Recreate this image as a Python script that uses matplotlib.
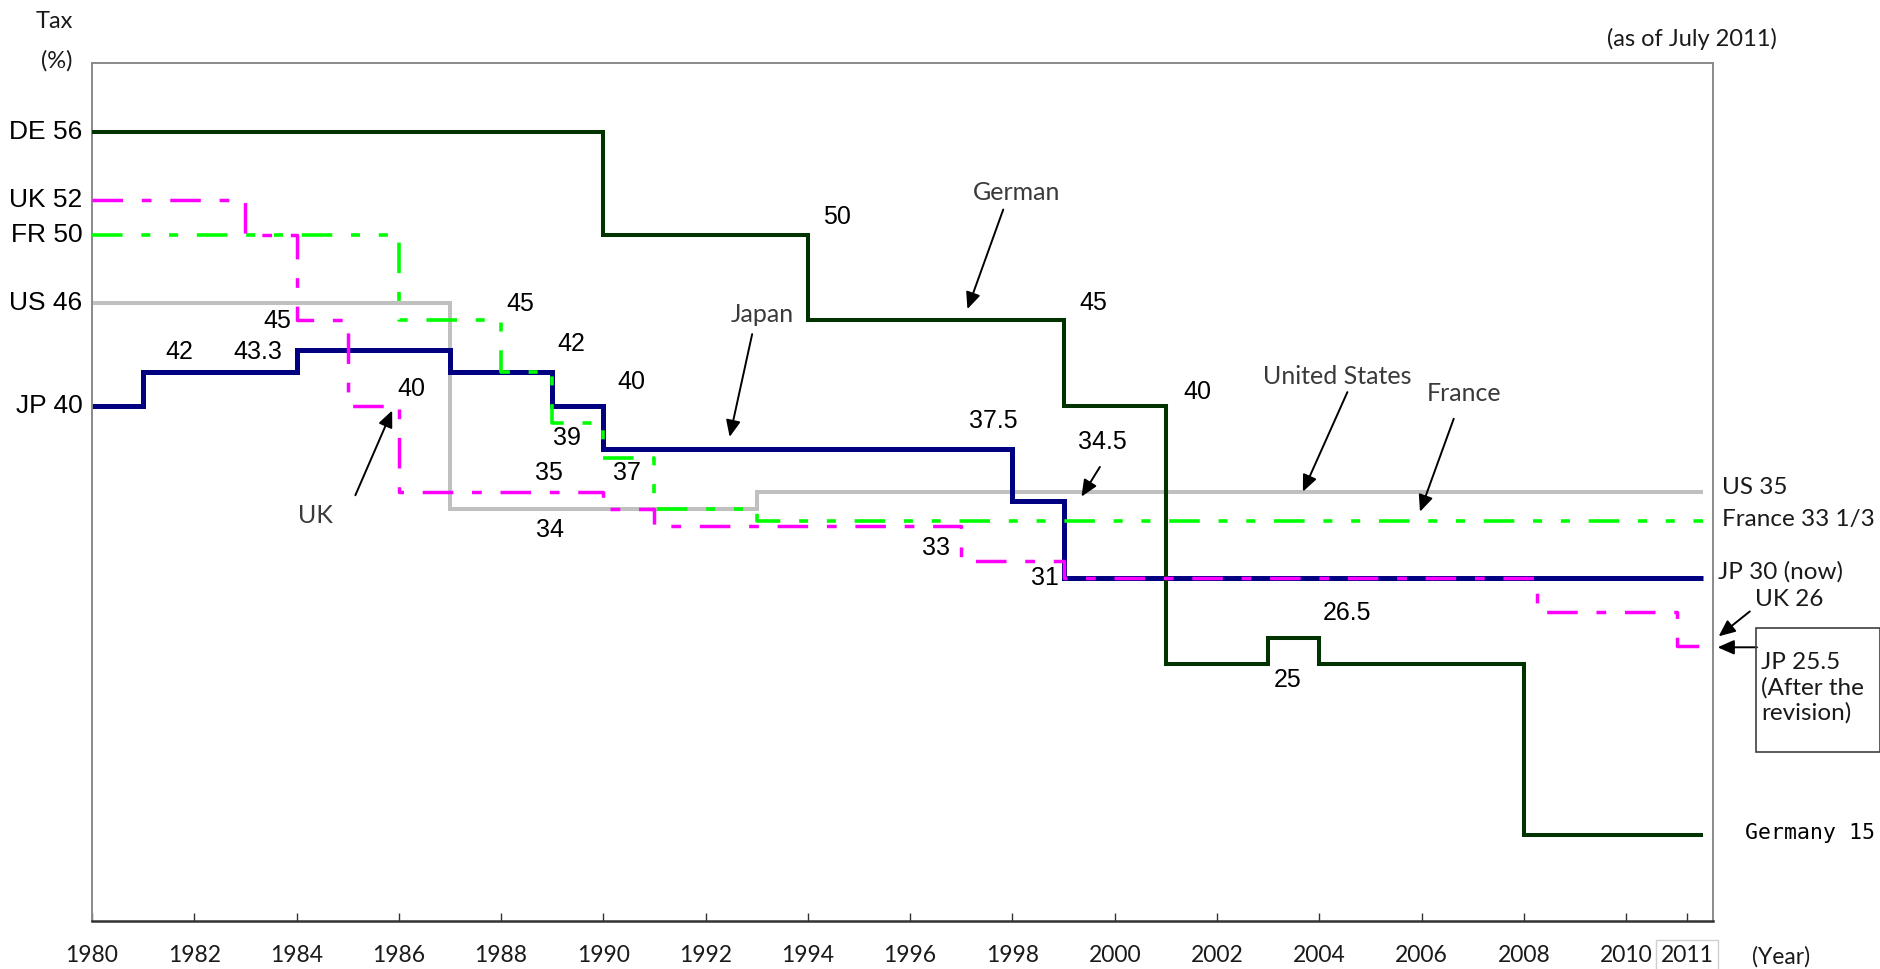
import matplotlib
matplotlib.use("Agg")
import matplotlib.pyplot as plt
from matplotlib import font_manager as fm

# ---------------------------------------------------------------------------
# Corporate tax rates (%) by country; each list of years marks the start of
# a rate period, the last entry closes the final period (July 2011).
# ---------------------------------------------------------------------------
de_years = [1980, 1990, 1994, 1999, 2001, 2003, 2004, 2008, 2011.5]
de_rates = [56, 50, 45, 40, 25, 26.5, 25, 15, 15]

jp_years = [1980, 1981, 1984, 1987, 1989, 1990, 1998, 1999, 2011.5]
jp_rates = [40, 42, 43.3, 42, 40, 37.5, 34.5, 30, 30]

us_years = [1980, 1987, 1993, 2011.5]
us_rates = [46, 34, 35, 35]

fr_years = [1980, 1986, 1988, 1989, 1990, 1991, 1993, 2011.5]
fr_rates = [50, 45, 42, 39, 37, 34, 100 / 3, 100 / 3]

uk_years = [1980, 1983, 1984, 1985, 1986, 1990, 1991, 1997, 1999, 2008.25, 2011, 2011.5]
uk_rates = [52, 50, 45, 40, 35, 34, 33, 31, 30, 28, 26, 26]

year_ticks = list(range(1980, 2011, 2))
year_tick_labels = [str(y) for y in year_ticks]
current_year_tick = 2011.2
current_year_label = "2011"

# ---------------------------------------------------------------------------
plt.rcParams["lines.scale_dashes"] = False
installed = {f.name for f in fm.fontManager.ttflist}


def pick(*names):
    for n in names:
        if n in installed:
            return n
    return "DejaVu Sans"


NUM_FONT = pick("Liberation Sans Narrow", "DejaVu Sans Condensed", "Liberation Sans")
THIN_FONT = pick("Lato", "Open Sans", "Roboto")
MONO_FONT = pick("DejaVu Sans Mono", "Liberation Mono")

W, H = 1881, 969
fig = plt.figure(figsize=(W / 100, H / 100), dpi=100)


def fx(px):
    return px / W


def fy(py):
    return 1 - py / H


AX_L, AX_R, AX_T, AX_B = 92, 1713, 63, 921
ax = fig.add_axes([fx(AX_L), fy(AX_B), (AX_R - AX_L) / W, (AX_B - AX_T) / H])
ax.set_xlim(1980, 2011.7)
ax.set_ylim(10, 60)

# --- step lines ------------------------------------------------------------
ax.step(us_years, us_rates, where="post", color="#c0c0c0", lw=2.9,
        solid_joinstyle="miter", solid_capstyle="butt", zorder=1)
ax.step(jp_years, jp_rates, where="post", color="#000080", lw=3.6,
        solid_joinstyle="miter", solid_capstyle="butt", zorder=2)
ax.step(de_years, de_rates, where="post", color="#003300", lw=2.9,
        solid_joinstyle="miter", solid_capstyle="butt", zorder=3)
fr_line, = ax.step(fr_years, fr_rates, where="post", color="#00ff00", lw=2.6, zorder=4)
fr_line.set_dashes([22, 13.5, 6.5, 13.5, 6.5, 13.5])
uk_line, = ax.step(uk_years, uk_rates, where="post", color="#ff00ff", lw=2.5, zorder=5)
uk_line.set_dashes([22, 13.5, 7, 13.5])

# --- axes styling ----------------------------------------------------------
for side in ("left", "top", "right"):
    ax.spines[side].set_color("#8a8a8a")
    ax.spines[side].set_linewidth(1.4)
ax.spines["bottom"].set_color("#333333")
ax.spines["bottom"].set_linewidth(1.8)
ax.set_yticks([])
ax.set_xticks(year_ticks + [current_year_tick])
ax.set_xticklabels(year_tick_labels + [current_year_label])
ax.tick_params(axis="x", direction="in", length=5.5, width=1, color="#333333",
               pad=17, labelsize=16.5, labelcolor="#1a1a1a")
for lab in ax.get_xticklabels():
    lab.set_fontfamily(THIN_FONT)
ax.get_xticklabels()[-1].set_bbox(dict(boxstyle="square,pad=0.2", fc="white",
                                       ec="#d0d0d0", lw=1))
fig.text(fx(1781), fy(957), "(Year)", ha="center", va="center", fontsize=16.5,
         family=THIN_FONT, color="#1a1a1a")


def fmt(v):
    return f"{v:g}"


# --- value labels next to the steps ----------------------------------------
value_labels = [
    (jp_rates, 1, 1981.70, 43.16),
    (jp_rates, 2, 1983.25, 43.16),
    (uk_rates, 2, 1983.63, 44.98),
    (fr_rates, 1, 1988.38, 45.95),
    (fr_rates, 2, 1989.37, 43.62),
    (jp_rates, 4, 1990.55, 41.42),
    (uk_rates, 3, 1986.24, 41.01),
    (fr_rates, 3, 1989.28, 38.16),
    (uk_rates, 4, 1988.94, 36.13),
    (fr_rates, 4, 1990.47, 36.13),
    (us_rates, 1, 1988.96, 32.76),
    (de_rates, 1, 1994.56, 51.00),
    (de_rates, 2, 1999.58, 46.00),
    (de_rates, 3, 2001.62, 40.84),
    (jp_rates, 5, 1997.63, 39.11),
    (jp_rates, 6, 1999.75, 37.93),
    (uk_rates, 6, 1996.51, 31.72),
    (uk_rates, 7, 1998.63, 29.98),
    (de_rates, 5, 2004.54, 27.94),
    (de_rates, 6, 2003.39, 24.07),
]
for series, i, x, y in value_labels:
    ax.text(x, y, fmt(series[i]), ha="center", va="center", fontsize=18,
            family=NUM_FONT, color="black", zorder=6)

# --- starting rates on the left --------------------------------------------
start_labels = [("DE", de_rates[0]), ("UK", uk_rates[0]), ("FR", fr_rates[0]),
                ("US", us_rates[0]), ("JP", jp_rates[0])]
left_tf = ax.get_yaxis_transform()
for code, v in start_labels:
    ax.text(-0.006, v, f"{code} {fmt(v)}", transform=left_tf, ha="right",
            va="center", fontsize=19, family=NUM_FONT, color="black",
            clip_on=False)

# --- current rates on the right --------------------------------------------
right_tf = ax.get_yaxis_transform()
thin = dict(family=THIN_FONT, color="#1a1a1a", fontsize=17.5,
            ha="left", va="center", clip_on=False, transform=right_tf)
ax.text(1.0053, 35.26, f"US {fmt(us_rates[-1])}", **thin)
ax.text(1.0053, 33.42, "France 33 1/3", **thin)
ax.text(1.0030, 30.33, f"JP {fmt(jp_rates[-1])} (now)", **thin)
ax.text(1.0258, 28.72, f"UK {fmt(uk_rates[-1])}", **thin)
ax.text(1.0197, 15.1, f"Germany {fmt(de_rates[-1])}", transform=right_tf,
        ha="left", va="center", fontsize=15.5, family=MONO_FONT, color="black",
        clip_on=False)

# boxed note for the revised Japanese rate
fig.patches.append(plt.Rectangle((fx(1756), fy(752)), (1880 - 1756) / W, (752 - 628) / H,
                                 transform=fig.transFigure, fill=False,
                                 ec="#404040", lw=1.2))
fig.text(fx(1761), fy(688), "JP 25.5\n(After the\nrevision)", ha="left", va="center",
         fontsize=17.5, family=THIN_FONT, color="#1a1a1a", linespacing=1.2)

# --- country names with arrows ---------------------------------------------
name_style = dict(ha="center", va="center", fontsize=18, family=THIN_FONT,
                  color="#3a3a3a", zorder=6)
ax.text(1998.09, 52.43, "German", **name_style)
ax.text(1993.10, 45.37, "Japan", **name_style)
ax.text(1984.36, 33.62, "UK", **name_style)
ax.text(2004.36, 41.71, "United States", **name_style)
ax.text(2006.83, 40.72, "France", **name_style)

arrow_style = dict(arrowstyle="-|>,head_length=0.5,head_width=0.22", color="black",
                   lw=1.4, shrinkA=0, shrinkB=0, mutation_scale=20)
arrows = [
    ((1997.82, 51.46), (1997.12, 45.66)),
    ((1992.91, 44.20), (1992.47, 38.21)),
    ((1985.15, 34.81), (1985.87, 39.75)),
    ((1999.71, 36.46), (1999.35, 34.73)),
    ((2004.55, 40.82), (2003.68, 35.02)),
    ((2006.63, 39.27), (2005.97, 33.85)),
    ((2012.42, 28.04), (2011.81, 26.59)),
    ((2012.56, 25.95), (2011.79, 25.95)),
]
for start, end in arrows:
    ax.annotate("", xy=end, xytext=start, arrowprops=arrow_style,
                annotation_clip=False, zorder=7)

# --- titles ----------------------------------------------------------------
top = dict(ha="center", va="center", family=THIN_FONT, color="#1a1a1a")
fig.text(fx(54), fy(22), "Tax", fontsize=17, **top)
fig.text(fx(57), fy(61), "(%)", fontsize=17, **top)
fig.text(fx(1692), fy(39), "(as of July 2011)", fontsize=17, **top)

fig.savefig("out.png", dpi=100, facecolor="white")
